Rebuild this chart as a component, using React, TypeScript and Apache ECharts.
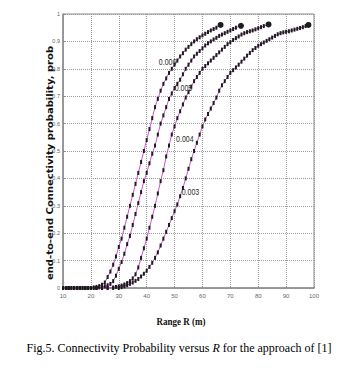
import React, { useEffect, useRef } from "react";
import * as echarts from "echarts";

// Range R (m) ticks and probability ticks
const xTicks = [10, 20, 30, 40, 50, 60, 70, 80, 90, 100];
const curveNames = ["0.006", "0.005", "0.004", "0.003"];

// [R, probability]
const curve0006: [number, number][] = [
  [10, 0], [11, 0], [12, 0], [13, 0], [14, 0], [15, 0], [16, 0], [17, 0], [18, 0], [19, 0], [20, 0],
  [21, 0.002], [22, 0.004], [23, 0.007], [24, 0.012], [25, 0.02], [26, 0.04], [27, 0.06], [28, 0.085],
  [29, 0.115], [30, 0.15], [31, 0.18], [32, 0.22], [33, 0.26], [34, 0.3], [35, 0.34], [36, 0.38],
  [37, 0.42], [38, 0.46], [39, 0.5], [40, 0.54], [41, 0.58], [42, 0.62], [43, 0.66], [44, 0.69],
  [45, 0.72], [46, 0.745], [47, 0.765], [48, 0.785], [49, 0.8], [50, 0.815], [51, 0.83], [52, 0.845],
  [53, 0.857], [54, 0.87], [55, 0.88], [56, 0.89], [57, 0.9], [58, 0.908], [59, 0.915], [60, 0.922],
  [61, 0.928], [62, 0.934], [63, 0.94], [64, 0.945], [65, 0.95], [66.5, 0.96],
];
const curve0005: [number, number][] = [
  [10, 0], [11, 0], [12, 0], [13, 0], [14, 0], [15, 0], [16, 0], [17, 0], [18, 0], [19, 0], [20, 0],
  [21, 0], [22, 0], [23, 0.002], [24, 0.004], [25, 0.006], [26, 0.01], [27, 0.015], [28, 0.025],
  [29, 0.045], [30, 0.07], [31, 0.095], [32, 0.125], [33, 0.16], [34, 0.19], [35, 0.23], [36, 0.27],
  [37, 0.31], [38, 0.35], [39, 0.39], [40, 0.42], [41, 0.455], [42, 0.49], [43, 0.52], [44, 0.56],
  [45, 0.6], [46, 0.63], [47, 0.66], [48, 0.69], [49, 0.71], [50, 0.73], [51, 0.745], [52, 0.76],
  [53, 0.78], [54, 0.8], [55, 0.815], [56, 0.83], [57, 0.845], [58, 0.855], [59, 0.865], [60, 0.875],
  [61, 0.885], [62, 0.893], [63, 0.9], [64, 0.907], [65, 0.913], [66, 0.92], [67, 0.925], [68, 0.93],
  [69, 0.935], [70, 0.94], [71, 0.945], [72, 0.95], [73.8, 0.957],
];
const curve0004: [number, number][] = [
  [10, 0], [12, 0], [14, 0], [16, 0], [18, 0], [20, 0], [22, 0], [24, 0], [26, 0], [28, 0.002],
  [29, 0.004], [30, 0.006], [31, 0.009], [32, 0.013], [33, 0.018], [34, 0.025], [35, 0.035], [36, 0.05],
  [37, 0.075], [38, 0.11], [39, 0.145], [40, 0.18], [41, 0.22], [42, 0.26], [43, 0.3], [44, 0.345],
  [45, 0.39], [46, 0.43], [47, 0.48], [48, 0.52], [49, 0.56], [50, 0.59], [51, 0.62], [52, 0.645],
  [53, 0.67], [54, 0.695], [55, 0.715], [56, 0.735], [57, 0.755], [58, 0.77], [59, 0.785], [60, 0.8],
  [61, 0.81], [62, 0.82], [63, 0.83], [64, 0.84], [65, 0.85], [66, 0.86], [67, 0.87], [68, 0.88],
  [69, 0.89], [70, 0.897], [71, 0.905], [72, 0.912], [73, 0.918], [74, 0.925], [75, 0.93], [76, 0.934],
  [77, 0.937], [78, 0.94], [79, 0.944], [80, 0.948], [81, 0.952], [82, 0.956], [83.7, 0.962],
];
const curve0003: [number, number][] = [
  [10, 0], [12, 0], [14, 0], [16, 0], [18, 0], [20, 0], [22, 0], [24, 0], [26, 0], [28, 0], [30, 0],
  [31, 0.003], [32, 0.006], [33, 0.01], [34, 0.015], [35, 0.02], [36, 0.026], [37, 0.033], [38, 0.042],
  [39, 0.052], [40, 0.063], [41, 0.077], [42, 0.092], [43, 0.11], [44, 0.13], [45, 0.155], [46, 0.18],
  [47, 0.205], [48, 0.23], [49, 0.255], [50, 0.28], [51, 0.305], [52, 0.335], [53, 0.365], [54, 0.4],
  [55, 0.435], [56, 0.47], [57, 0.5], [58, 0.53], [59, 0.56], [60, 0.59], [61, 0.615], [62, 0.635],
  [63, 0.655], [64, 0.675], [65, 0.695], [66, 0.72], [67, 0.74], [68, 0.755], [69, 0.77], [70, 0.785],
  [71, 0.795], [72, 0.805], [73, 0.815], [74, 0.826], [75, 0.837], [76, 0.848], [77, 0.858], [78, 0.868],
  [79, 0.876], [80, 0.884], [81, 0.89], [82, 0.896], [83, 0.902], [84, 0.908], [85, 0.914], [86, 0.92],
  [87, 0.926], [88, 0.93], [89, 0.933], [90, 0.935], [91, 0.937], [92, 0.94], [93, 0.943], [94, 0.946],
  [95, 0.949], [96, 0.952], [97, 0.956], [98, 0.96],
];
const curves = [curve0006, curve0005, curve0004, curve0003];
// where each curve's text label sits, in data coordinates [R, prob]
const labelAnchors: [number, number][] = [
  [47.5, 0.825],
  [53.2, 0.728],
  [53.7, 0.544],
  [55.7, 0.349],
];

export default function App() {
  const ref = useRef<HTMLDivElement>(null);

  useEffect(() => {
    if (!ref.current) return;
    const chart = echarts.init(ref.current, null, { renderer: "svg" });
    const lineColor = "#d24fd8";
    const axisColor = "#8c8c8c";

    const series = curves.map((data, i) => ({
      type: "line",
      name: curveNames[i],
      data: data.map((pt, j) =>
        j === data.length - 1
          ? { value: pt, symbol: "circle", symbolSize: 6 }
          : { value: pt }
      ),
      symbol: "rect",
      symbolSize: [2, 4],
      showSymbol: true,
      showAllSymbol: true,
      itemStyle: { color: "#1c1c1c" },
      lineStyle: { color: lineColor, width: 1 },
      emphasis: { disabled: true },
    }));

    chart.setOption({
      animation: false,
      backgroundColor: "#ffffff",
      grid: {
        left: 63,
        right: 44,
        top: 14,
        bottom: 82,
        show: true,
        borderColor: axisColor,
        borderWidth: 1,
      },
      xAxis: {
        type: "value",
        min: xTicks[0],
        max: xTicks[xTicks.length - 1],
        interval: 10,
        axisLine: { show: true, lineStyle: { color: axisColor, width: 1.5 } },
        axisTick: { show: true, inside: true, length: 2, lineStyle: { color: axisColor } },
        axisLabel: { fontSize: 6, color: "#666", margin: 5, fontFamily: "'Liberation Sans', sans-serif" },
        splitLine: { show: true, lineStyle: { color: "#9a9a9a", type: "dotted", width: 1 } },
      },
      yAxis: {
        type: "value",
        min: 0,
        max: 1,
        interval: 0.1,
        axisLine: { show: true, lineStyle: { color: axisColor, width: 1.5 } },
        axisTick: { show: true, inside: true, length: 2, lineStyle: { color: axisColor } },
        axisLabel: { fontSize: 5.5, color: "#666", margin: 3, fontFamily: "'Liberation Sans', sans-serif" },
        splitLine: { show: true, lineStyle: { color: "#9a9a9a", type: "dotted", width: 1 } },
      },
      series,
    });

    const labelPix = labelAnchors.map((a) => chart.convertToPixel({ gridIndex: 0 }, a) as number[]);

    chart.setOption({
      graphic: [
        ...labelPix.map((p, i) => ({
          id: "lab" + i,
          type: "text",
          x: p[0],
          y: p[1],
          scaleX: 0.78,
          silent: true,
          z: 10,
          style: {
            text: curveNames[i],
            align: "center",
            verticalAlign: "middle",
            fontFamily: "'Liberation Sans', sans-serif",
            fontSize: 9,
            fill: "#2a2a2a",
          },
        })),
        {
          id: "ytitle",
          type: "text",
          x: 50,
          y: 163,
          rotation: Math.PI / 2,
          scaleX: 1.18,
          silent: true,
          style: {
            text: "end-to-end Connectivity probability, prob",
            align: "center",
            verticalAlign: "middle",
            fontFamily: "'DejaVu Sans', sans-serif",
            fontWeight: "bold",
            fontSize: 8.5,
            fill: "#111",
          },
        },
        {
          id: "xtitle",
          type: "text",
          x: 181,
          y: 322,
          scaleX: 0.9,
          silent: true,
          style: {
            text: "Range R (m)",
            align: "center",
            verticalAlign: "middle",
            fontFamily: "'Liberation Serif', serif",
            fontWeight: "bold",
            fontSize: 10,
            fill: "#111",
          },
        },
        {
          id: "caption",
          type: "text",
          left: "center",
          top: 342,
          silent: true,
          style: {
            text: "{n|Fig.5. Connectivity Probability versus }{i|R}{n| for the approach of [1]}",
            rich: {
              n: { fontFamily: "'Liberation Serif', serif", fontSize: 12, fill: "#000" },
              i: { fontFamily: "'Liberation Serif', serif", fontSize: 12, fontStyle: "italic", fill: "#000" },
            },
          },
        },
      ],
    });

    return () => chart.dispose();
  }, []);

  return (
    <div
      ref={ref}
      style={{ position: "fixed", left: 0, top: 0, width: 358, height: 370, background: "#fff" }}
    />
  );
}
